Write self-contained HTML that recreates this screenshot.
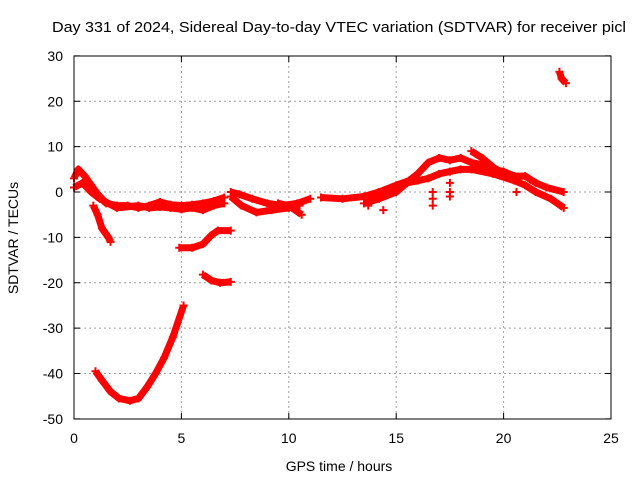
<!DOCTYPE html>
<html><head><meta charset="utf-8"><style>
body{margin:0;background:#fff}
svg{display:block;font-family:"Liberation Sans",sans-serif}
</style></head><body>
<svg id="chart" width="640" height="480">
<text x="52" y="32" font-size="15" fill="#000" textLength="574" lengthAdjust="spacingAndGlyphs">Day 331 of 2024, Sidereal Day-to-day VTEC variation (SDTVAR) for receiver picl</text>
<text x="339" y="471" font-size="14" text-anchor="middle">GPS time / hours</text>
<text transform="translate(18,238) rotate(-90)" font-size="14" text-anchor="middle">SDTVAR / TECUs</text>
<g id="grid"></g><g id="marks"></g>
<rect x="74" y="56" width="537" height="363" fill="none" stroke="#000" stroke-width="1"/>
</svg>
<script>
const xTicks=[0,5,10,15,20,25];
const yTicks=[30,20,10,0,-10,-20,-30,-40,-50];
const traceMainEarly=[[0,3],[0.2,5],[0.5,3.5],[0.8,1.5],[1.1,-0.5],[1.5,-2.5],[2,-3],[2.5,-3],[3,-3.5],[3.5,-3],[4,-2.2],[4.5,-2.8],[5,-3],[5.5,-2.8],[6,-2.5],[6.5,-2],[7,-1.2]];
const traceMainEarly2=[[0,1],[0.4,2],[0.8,0],[1.2,-1.5],[2,-3.5],[3,-3],[3.5,-3.5],[4,-3.3],[4.5,-3.5],[5,-3.8],[5.5,-3.5],[6,-4],[6.5,-3],[7,-2.5]];
const traceMid=[[7.3,0],[7.7,-0.5],[8.3,-1.5],[9,-2.5],[9.7,-3],[10.4,-2.5],[11,-1.5]];
const traceMidLow=[[7.3,-1],[7.8,-3],[8.5,-4.5],[9.2,-4],[10,-3.5],[10.5,-3]];
const traceMidLow2=[[9.5,-2.5],[10,-3],[10.6,-5]];
const traceDrop=[[0.9,-3],[1.1,-5],[1.3,-8],[1.6,-10],[1.7,-11]];
const traceNeg12=[[4.9,-12.3],[5.5,-12.3],[6,-11.5],[6.4,-9.5],[6.7,-8.5],[7.3,-8.5]];
const traceNeg20=[[6,-18.2],[6.4,-19.5],[6.8,-20],[7.3,-19.8]];
const traceBig=[[1.0,-39.5],[1.3,-41.5],[1.7,-44],[2.1,-45.5],[2.6,-46],[3.0,-45.5],[3.4,-43],[3.8,-40],[4.2,-36.5],[4.6,-32],[5.1,-25]];
const traceLate1=[[11.5,-1.2],[12.5,-1.5],[13.5,-1],[14.2,0],[15,1.5],[15.6,2.5],[16,4],[16.5,6.5],[17,7.5],[17.5,7],[18,7.5],[18.5,6.5],[19,6],[19.5,5],[20,4.5],[20.5,3.5],[21,3.5],[21.5,2],[22,1],[22.8,0]];
const traceLate2=[[13.5,-2.5],[14.2,-1.5],[15,0],[15.5,2],[16,2.5],[16.5,3],[17,4],[17.5,4.5],[18,5],[18.5,5],[19.5,4],[20.5,2.5],[21,1.5],[21.5,0],[22.2,-1.5],[22.8,-3.5]];
const traceSpike=[[18.5,9],[19,7.5],[19.5,5.5],[20,4]];
const traceUp=[[22.6,26.5],[22.7,25],[22.9,24]];
const traceDrops=[[16.7,0],[16.7,-1.5],[16.7,-3],[17.5,2],[17.5,0],[17.5,-1],[14.4,-4],[20.6,0],[13.7,-3]];
const traces=[traceMainEarly,traceMainEarly2,traceMid,traceMidLow,traceMidLow2,traceDrop,traceNeg12,traceNeg20,traceBig,traceLate1,traceLate2,traceSpike,traceUp];
const NS='http://www.w3.org/2000/svg';
const X=h=>74+h*(537/25), Y=v=>192-v*(363/80);
const grid=document.getElementById('grid'), marks=document.getElementById('marks');
function el(t,a,p){const e=document.createElementNS(NS,t);for(const k in a)e.setAttribute(k,a[k]);p.appendChild(e);return e;}
xTicks.forEach(t=>{
 const x=X(t);
 if(t>0&&t<25){const g=el('line',{x1:x,x2:x,y1:56,y2:419,stroke:'#a0a0a0','stroke-dasharray':'2,3'},grid);
 
 }
 el('line',{x1:x,x2:x,y1:419,y2:413,stroke:'#000'},grid);el('line',{x1:x,x2:x,y1:56,y2:62,stroke:'#000'},grid);
 const tx=el('text',{x:x,y:443,'font-size':14,'text-anchor':'middle'},grid);tx.textContent=t;
 
 
});
yTicks.forEach(t=>{
 const y=Y(t);
 if(t<30&&t>-50){const g=el('line',{x1:74,x2:611,y1:y,y2:y,stroke:'#a0a0a0','stroke-dasharray':'2,3'},grid);
 
 }
 el('line',{x1:74,x2:80,y1:y,y2:y,stroke:'#000'},grid);el('line',{x1:605,x2:611,y1:y,y2:y,stroke:'#000'},grid);
 const tx=el('text',{x:63,y:y+5,'font-size':14,'text-anchor':'end'},grid);tx.textContent=t;
 
 
});
function plus(h,v){
 const x=X(h),y=Y(v);
 const p=el('path',{d:`M${x-4},${y}H${x+4}M${x},${y-4}V${y+4}`,stroke:'#f00','stroke-width':2},marks);
 
 
}
traces.forEach(tr=>{
 const pl=el('polyline',{points:tr.map(p=>X(p[0])+','+Y(p[1])).join(' '),fill:'none',stroke:'#f00','stroke-width':7,'stroke-linejoin':'round'},marks);
 
 
 tr.forEach(p=>plus(p[0],p[1]));
});
traceDrops.forEach(p=>plus(p[0],p[1]));
</script>
</body></html>
